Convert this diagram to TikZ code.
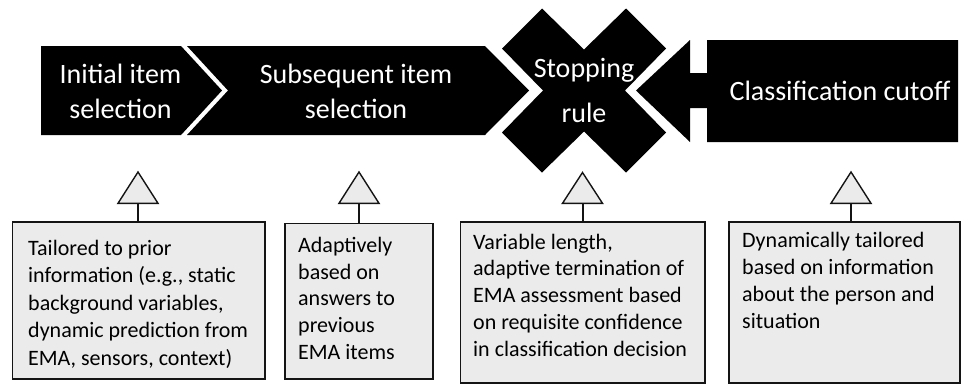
\documentclass[tikz,border=0pt]{standalone}
\usepackage{fontspec}
\setmainfont{Carlito}
\definecolor{boxfill}{RGB}{235,235,235}
\definecolor{inkline}{RGB}{20,20,20}
\tikzset{
  banner/.style={fill=black},
  hdr/.style={text=white, inner sep=0pt, anchor=base},
  infobox/.style={draw=inkline, line width=1.4pt, fill=boxfill, inner sep=0pt},
  infotext/.style={inner sep=0pt, anchor=base west, text=black},
  marker/.style={draw=inkline, line width=1.4pt, fill=boxfill, line join=miter},
  stem/.style={draw=inkline, line width=2pt}
}
\begin{document}
\begin{tikzpicture}[x=1pt,y=-1pt]
\useasboundingbox (0,0) rectangle (961,384);
% header shapes
\fill[banner] (41,46) -- (181,46) -- (222,90.5) -- (181,135) -- (41,135) -- cycle;
\fill[banner] (187,46) -- (485,46) -- (529,90.5) -- (485,135) -- (187,135) -- (228,90.5) -- cycle;
\fill[banner] (636,90.5) -- (690,40) -- (690,73) -- (707,73) -- (707,40) -- (958,40) -- (958,142) -- (707,142) -- (707,108) -- (690,108) -- (690,142) -- cycle;
\fill[banner, shift={(584,90.5)}] (0,-41) -- (42,-82) -- (82,-42) -- (41,0) -- (82,42) -- (42,82) -- (0,41) -- (-42,82) -- (-82,42) -- (-41,0) -- (-82,-42) -- (-42,-82) -- cycle;
% header texts
\node[hdr] (h1) at (120.5,83) {\parbox[t]{200pt}{\centering\fontsize{28}{35}\selectfont Initial item\\selection}};
\node[hdr] (h2) at (356,83) {\parbox[t]{260pt}{\centering\fontsize{28}{35}\selectfont Subsequent item\\selection}};
\node[hdr] (h3) at (584,77) {\parbox[t]{160pt}{\centering\fontsize{28}{45}\selectfont Stopping\\rule}};
\node[hdr] (h4) at (840,100) {\fontsize{28}{35}\selectfont Classification cutoff};
% boxes
\node[infobox, minimum width=252.3pt, minimum height=157pt] (box1) at (138.85,300.5) {};
\node[infobox, minimum width=148pt, minimum height=155.5pt] (box2) at (359,301.25) {};
\node[infobox, minimum width=244.3pt, minimum height=161pt] (box3) at (582.85,302.5) {};
\node[infobox, minimum width=231pt, minimum height=161pt] (box4) at (844.5,302.5) {};
% box texts
\node[infotext] (txt1) at (28,255.5) {\parbox[t]{240pt}{\raggedright\fontsize{22}{27.4}\selectfont Tailored to prior\\information (e.g., static\\background variables,\\dynamic prediction from\\EMA, sensors, context)}};
\node[infotext] (txt2) at (298,252.3) {\parbox[t]{140pt}{\raggedright\fontsize{22}{26.75}\selectfont Adaptively\\based on\\answers to\\previous\\EMA items}};
\node[infotext] (txt3) at (473,249) {\parbox[t]{240pt}{\raggedright\fontsize{22}{26.75}\selectfont Variable length,\\adaptive termination of\\EMA assessment based\\on requisite confidence\\in classification decision}};
\node[infotext] (txt4) at (742,247) {\parbox[t]{220pt}{\raggedright\fontsize{22}{27}\selectfont Dynamically tailored\\based on information\\about the person and\\situation}};
% stems and markers
\coordinate (m1) at (138,203.3);
\coordinate (m2) at (359,203.3);
\coordinate (m3) at (582.5,203.3);
\coordinate (m4) at (851,203.3);
\draw[stem] (m1) -- (m1 |- box1.north);
\draw[stem] (m2) -- (m2 |- box2.north);
\draw[stem] (m3) -- (m3 |- box3.north);
\draw[stem] (m4) -- (m4 |- box4.north);
\draw[marker] (138,172) -- (158,203.3) -- (118,203.3) -- cycle;
\draw[marker] (359,172) -- (379,203.3) -- (339,203.3) -- cycle;
\draw[marker] (582.5,172.5) -- (602.5,203.3) -- (562.5,203.3) -- cycle;
\draw[marker] (851,172) -- (871,203.3) -- (831,203.3) -- cycle;
\end{tikzpicture}
\end{document}
